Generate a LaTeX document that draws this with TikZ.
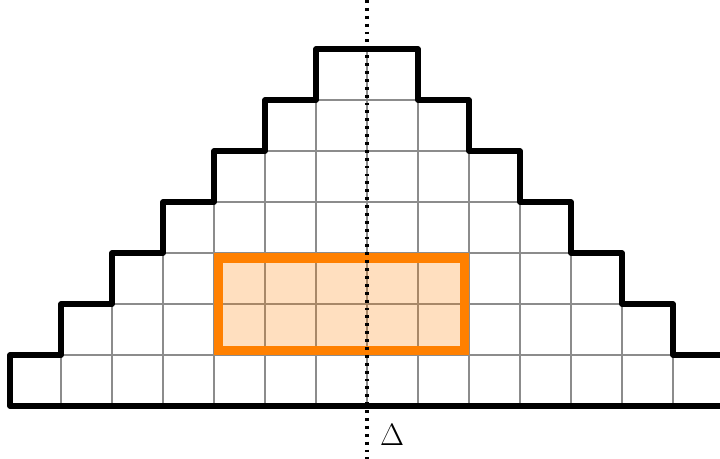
\documentclass[tikz,border=0pt]{standalone}
\usepackage{tikz}
\definecolor{sel}{HTML}{FF8000}
\tikzset{
  gridline/.style={draw=gray!90, line width=0.8pt},
  stair/.style={draw=black, line width=3pt, line join=round, line cap=round},
  selbox/.style={draw=sel, line width=5.3pt},
  selfill/.style={fill=sel, fill opacity=0.25},
  axisline/.style={draw=black, line width=1.8pt, dash pattern=on 1.6pt off 2.8pt},
}
\begin{document}
\begin{tikzpicture}[x=1cm,y=1cm]
\useasboundingbox (-0.196,-1.039) rectangle (13.922,7.961);
\clip (-0.196,-1.039) rectangle (13.922,7.961);
\path[fill=white] (-0.196,-1.039) rectangle (13.922,7.961);
% grid clipped to the staircase
\begin{scope}
\clip (0,0) -- (0,1) -- (1,1) -- (1,2) -- (2,2) -- (2,3) -- (3,3) -- (3,4) -- (4,4) -- (4,5) -- (5,5) -- (5,6) -- (6,6) -- (6,7) -- (8,7) -- (8,6) -- (9,6) -- (9,5) -- (10,5) -- (10,4) -- (11,4) -- (11,3) -- (12,3) -- (12,2) -- (13,2) -- (13,1) -- (14,1) -- (14,0) -- cycle;
\draw[gridline] (0,0) grid (14,7);
\end{scope}
% selected region
\path[selfill] (4,1) rectangle (9,3);
% staircase outline
\draw[stair] (0,0) -- (0,1) -- (1,1) -- (1,2) -- (2,2) -- (2,3) -- (3,3) -- (3,4) -- (4,4) -- (4,5) -- (5,5) -- (5,6) -- (6,6) -- (6,7) -- (8,7) -- (8,6) -- (9,6) -- (9,5) -- (10,5) -- (10,4) -- (11,4) -- (11,3) -- (12,3) -- (12,2) -- (13,2) -- (13,1) -- (14,1) -- (14,0) -- cycle;
\draw[selbox] (4.093,1.093) rectangle (8.907,2.907);
% symmetry axis
\coordinate (axtop) at (7,7.961);
\coordinate (axbot) at (7,-1.039);
\draw[axisline] (axtop) -- (axbot);
\node[inner sep=0pt, font=\fontsize{17}{19}\selectfont] (delta) at (7.49,-0.57) {$\Delta$};
\end{tikzpicture}
\end{document}
